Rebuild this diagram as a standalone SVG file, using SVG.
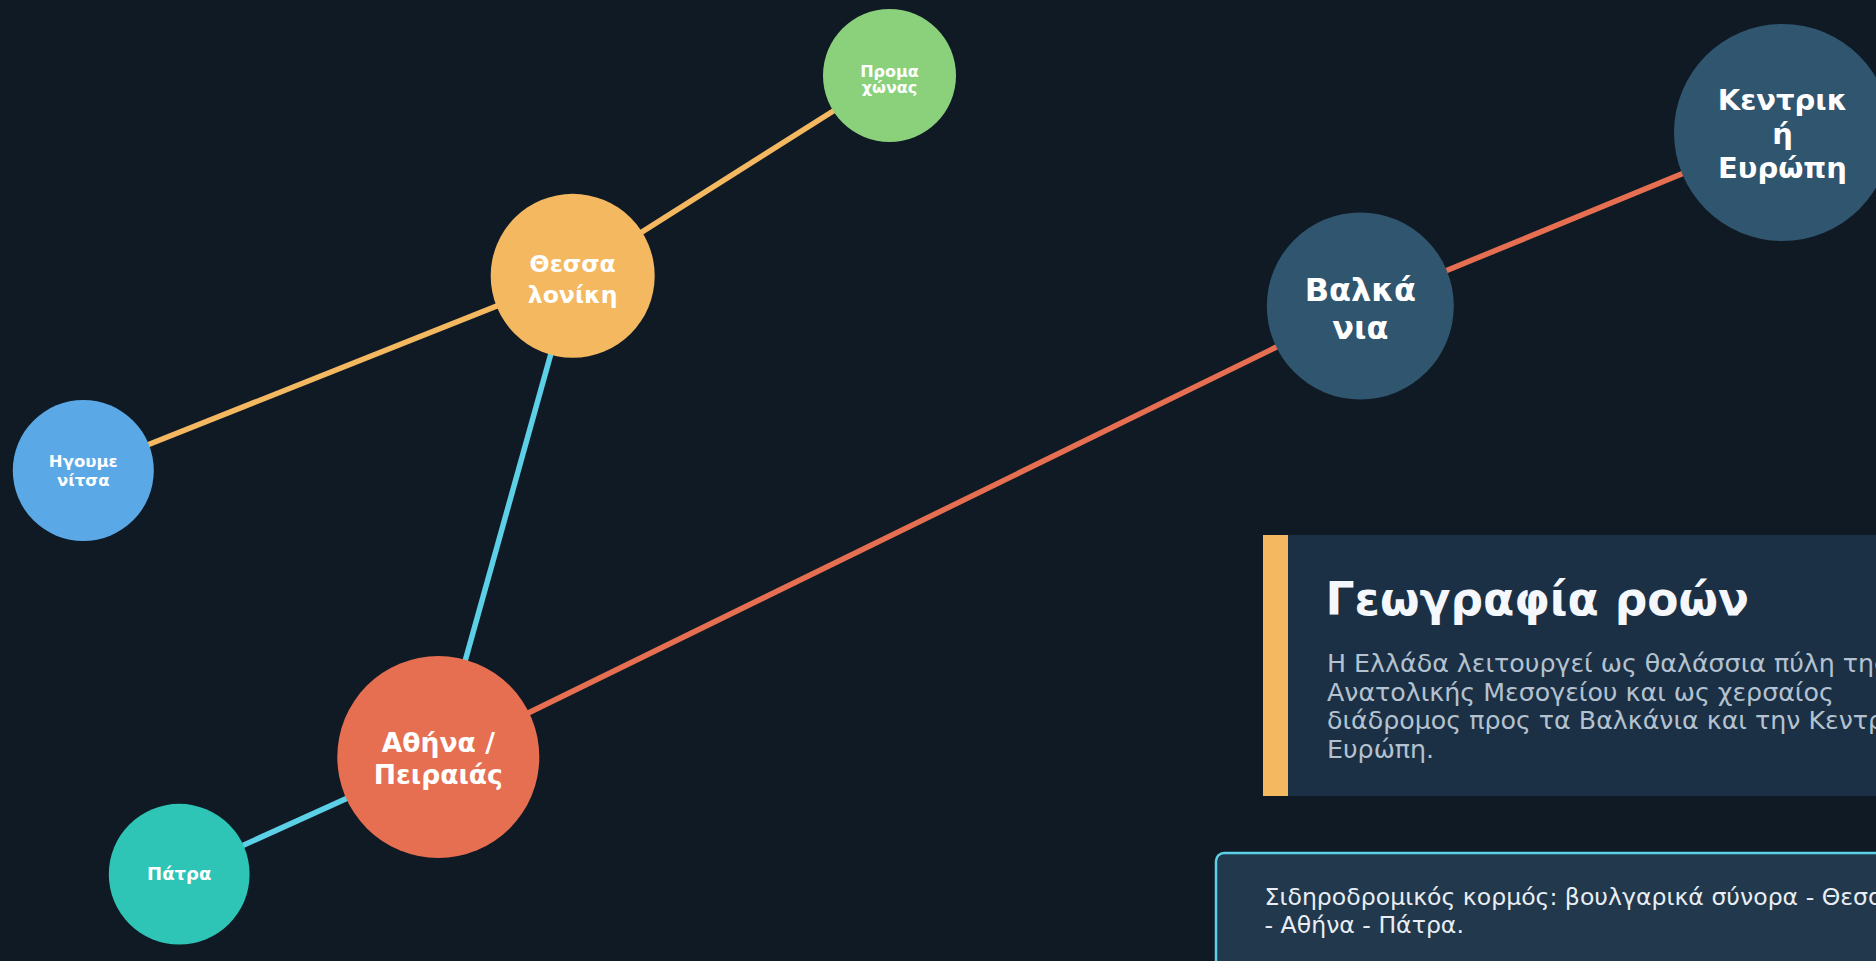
<svg xmlns="http://www.w3.org/2000/svg" width="1876" height="961" viewBox="0 0 1876 961">
<style>
.lbl{font-family:"DejaVu Sans","Noto Sans",sans-serif;font-weight:bold;fill:#ffffff;text-anchor:middle}
.edge{stroke-width:5.5;stroke-linecap:butt;fill:none}
.org{stroke:#f4b860}
.cyn{stroke:#5bd0e6}
.red{stroke:#e76f51}
.body{font-family:"DejaVu Sans","Noto Sans",sans-serif;fill:#b4c2d0;font-size:25.3px}
.note{font-family:"DejaVu Sans","Noto Sans",sans-serif;fill:#e8eef4;font-size:23.6px}
</style>
<rect x="0" y="0" width="1876" height="961" fill="#0f1a24"/>
<g id="connectors">
<line class="edge org" x1="572.7" y1="275.8" x2="889.5" y2="75.5"/>
<line class="edge org" x1="572.7" y1="275.8" x2="83.3" y2="470.5"/>
<line class="edge cyn" x1="572.7" y1="275.8" x2="438.3" y2="757"/>
<line class="edge cyn" x1="438.3" y1="757" x2="179.2" y2="874.2"/>
<line class="edge red" x1="438.3" y1="757" x2="1360.3" y2="306"/>
<line class="edge red" x1="1360.3" y1="306" x2="1782.5" y2="132.5"/>
</g>
<g id="node-promachonas">
<circle cx="889.5" cy="75.5" r="66.5" fill="#8bd17c"/>
<text class="lbl" font-size="16" x="889.5" y="77">Προμα</text>
<text class="lbl" font-size="16" x="889.5" y="93">χώνας</text>
</g>
<g id="node-kentriki-evropi">
<circle cx="1782.5" cy="132.5" r="108.5" fill="#30556f"/>
<text class="lbl" font-size="29" x="1782.5" y="110">Κεντρικ</text>
<text class="lbl" font-size="29" x="1782.5" y="144">ή</text>
<text class="lbl" font-size="29" x="1782.5" y="178">Ευρώπη</text>
</g>
<g id="node-valkania">
<circle cx="1360.3" cy="306" r="93.5" fill="#30556f"/>
<text class="lbl" font-size="32" x="1360.3" y="300.5">Βαλκά</text>
<text class="lbl" font-size="32" x="1360.3" y="338.5">νια</text>
</g>
<g id="node-thessaloniki">
<circle cx="572.7" cy="275.8" r="82" fill="#f4b860"/>
<text class="lbl" font-size="23.6" x="572.7" y="271.7">Θεσσα</text>
<text class="lbl" font-size="23.6" x="572.7" y="302.7">λονίκη</text>
</g>
<g id="node-igoumenitsa">
<circle cx="83.3" cy="470.5" r="70.5" fill="#5aa9e6"/>
<text class="lbl" font-size="16.5" x="83.3" y="467">Ηγουμε</text>
<text class="lbl" font-size="16.5" x="83.3" y="486">νίτσα</text>
</g>
<g id="node-athina">
<circle cx="438.3" cy="757" r="101" fill="#e76f51"/>
<text class="lbl" font-size="26.6" x="438.3" y="751.7">Αθήνα /</text>
<text class="lbl" font-size="26.6" x="438.3" y="784">Πειραιάς</text>
</g>
<g id="node-patra">
<circle cx="179.2" cy="874.2" r="70.4" fill="#2ec4b6"/>
<text class="lbl" font-size="18" x="179.2" y="880">Πάτρα</text>
</g>
<g id="panel-geografia">
<rect x="1263" y="535" width="640" height="261" fill="#1b3045"/>
<rect x="1263" y="535" width="25" height="261" fill="#f4b860"/>
<text x="1325.6" y="615" font-family="DejaVu Sans, Noto Sans, sans-serif" font-weight="bold" font-size="45.5" fill="#f4f7fb">Γεωγραφία ροών</text>
<text class="body" x="1327" y="672">Η Ελλάδα λειτουργεί ως θαλάσσια πύλη της</text>
<text class="body" x="1327" y="700.7">Ανατολικής Μεσογείου και ως χερσαίος</text>
<text class="body" x="1327" y="729.4">διάδρομος προς τα Βαλκάνια και την Κεντρική</text>
<text class="body" x="1327" y="758">Ευρώπη.</text>
</g>
<g id="note-rail">
<rect x="1216" y="853" width="700" height="150" rx="8" fill="#22384c" stroke="#5bd0e6" stroke-width="2.5"/>
<text class="note" x="1264.6" y="905">Σιδηροδρομικός κορμός: βουλγαρικά σύνορα - Θεσσαλονίκη</text>
<text class="note" x="1264.6" y="932.5">- Αθήνα - Πάτρα.</text>
</g>
</svg>
